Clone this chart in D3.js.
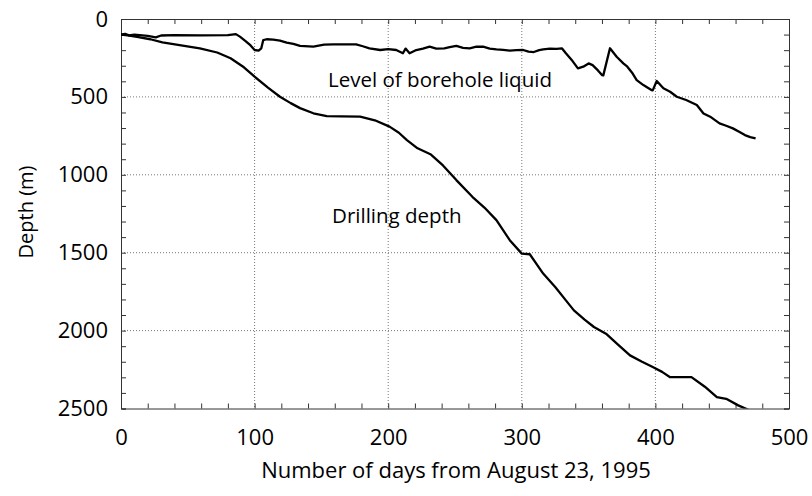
<!DOCTYPE html>
<html><head><meta charset="utf-8">
<script src="https://cdn.jsdelivr.net/npm/d3@7"></script>
<style>
body{margin:0;background:#fff;}
text{font-family:"Open Sans",sans-serif;fill:#000;}
</style></head>
<body><svg id="c" width="812" height="496"></svg>
<script>
const drillDays  = [0,5,12,22,31,45,59,72,82,92,100,110,119,127,134,144,154,165,179,190,201,208,214,222,232,241,251,263,272,281,291,300,306,316,325,333,339,347,354,363,372,381,390,398,405,411,427,437,446,453,462,470];
const drillDepth = [100,105,115,130,150,170,188,215,252,310,370,440,499,540,572,605,623,625,627,650,691,730,777,830,870,940,1034,1141,1210,1291,1420,1506,1510,1634,1720,1806,1870,1930,1977,2020,2090,2159,2200,2234,2265,2299,2299,2360,2427,2438,2480,2510];
const liquidDays  = [0,3,6,10,20,26,30,40,60,80,86,89,93,97,100,103,105,106.5,109,114,119,124,129,134,144,152,159,176,181,186,194,200,206,211,213,216,221,226,231,236,242,246,251,256,261,266,271,276,281,286,291,296,301,305,309,313,316,321,326,330,333,338,342,346,350,353,357,360,361,366,371,376,379,383,386,391,397,398,401,406,411,416,423,431,436,441,448,453,458,463,467,471,475];
const liquidDepth = [100,95,105,100,108,118,106,104,105,104,97,113,140,170,199,203,188,135,130,133,139,152,160,173,177,165,163,163,175,188,199,193,199,220,190,220,199,190,178,190,188,180,173,185,188,178,178,190,195,198,203,200,199,210,212,200,195,190,192,188,220,270,317,306,285,296,330,360,362,188,242,285,306,350,392,424,456,458,398,445,467,499,520,552,606,627,670,685,702,725,745,758,766];
const xTicks = [0,100,200,300,400,500];
const yTicks = [0,500,1000,1500,2000,2500];
const labels = [{text:"Level of borehole liquid", day:155, depth:435},{text:"Drilling depth", day:158, depth:1310}];

const svg = d3.select("#c");
const L=121, R=789, T=19, B=408.5;
const x = d3.scaleLinear().domain([0,500]).range([L,R]);
const y = d3.scaleLinear().domain([0,2500]).range([T,B]);

const g = svg.append("g");
g.selectAll(".gx").data(xTicks.slice(1,-1)).join("line")
 .attr("x1",d=>x(d)).attr("x2",d=>x(d)).attr("y1",T).attr("y2",B)
 .attr("stroke","#777").attr("stroke-width",1).attr("stroke-dasharray","1,2");
g.selectAll(".gy").data(yTicks.slice(1,-1)).join("line")
 .attr("y1",d=>y(d)).attr("y2",d=>y(d)).attr("x1",L).attr("x2",R)
 .attr("stroke","#777").attr("stroke-width",1).attr("stroke-dasharray","1,2");

const minorX = d3.range(0,501,20), minorY = d3.range(0,2501,100);
function ax(axis, tr){ const a=svg.append("g").attr("transform",tr).call(axis);
  a.select(".domain").attr("stroke","#333"); a.selectAll(".tick line").attr("stroke","#333"); return a;}
ax(d3.axisBottom(x).tickValues(minorX).tickSize(-5).tickFormat(""),`translate(0,${B})`);
ax(d3.axisTop(x).tickValues(minorX).tickSize(-5).tickFormat(""),`translate(0,${T})`);
ax(d3.axisLeft(y).tickValues(minorY).tickSize(-5).tickFormat(""),`translate(${L},0)`);
ax(d3.axisRight(y).tickValues(minorY).tickSize(-5).tickFormat(""),`translate(${R},0)`);

svg.append("g").call(d3.axisBottom(x).tickValues(xTicks).tickSize(0).tickPadding(0).tickFormat(d3.format("d")))
 .attr("transform",`translate(0,${B})`).call(a=>{a.select(".domain").remove();
   a.selectAll("text").attr("y",36.5).attr("dy",null).attr("font-size",22).attr("font-family","Open Sans");});
svg.append("g").call(d3.axisLeft(y).tickValues(yTicks).tickSize(0).tickPadding(0).tickFormat(d3.format("d")))
 .attr("transform",`translate(${L},0)`).call(a=>{a.select(".domain").remove();
   a.selectAll("text").attr("x",-13).attr("font-size",22).attr("font-family","Open Sans");});

const line = d3.line().x(d=>x(d[0])).y(d=>y(d[1]));
svg.append("clipPath").attr("id","clip").append("rect").attr("x",L).attr("y",T).attr("width",R-L).attr("height",B-T);
const lg = svg.append("g").attr("clip-path","url(#clip)");
lg.append("path").datum(drillDays.map((d,i)=>[d,drillDepth[i]])).attr("d",line)
 .attr("fill","none").attr("stroke","#000").attr("stroke-width",2.3).attr("stroke-linejoin","round");
lg.append("path").datum(liquidDays.map((d,i)=>[d,liquidDepth[i]])).attr("d",line)
 .attr("fill","none").attr("stroke","#000").attr("stroke-width",2.3).attr("stroke-linejoin","round");

svg.selectAll(".lab").data(labels).join("text").attr("x",d=>x(d.day)).attr("y",d=>y(d.depth))
 .attr("font-size",20.5).text(d=>d.text);

svg.append("text").attr("x",456).attr("y",478).attr("text-anchor","middle").attr("font-size",22)
 .text("Number of days from August 23, 1995");
svg.append("text").attr("transform","translate(33,212) rotate(-90)").attr("text-anchor","middle").attr("font-size",20)
 .text("Depth (m)");
</script></body></html>
